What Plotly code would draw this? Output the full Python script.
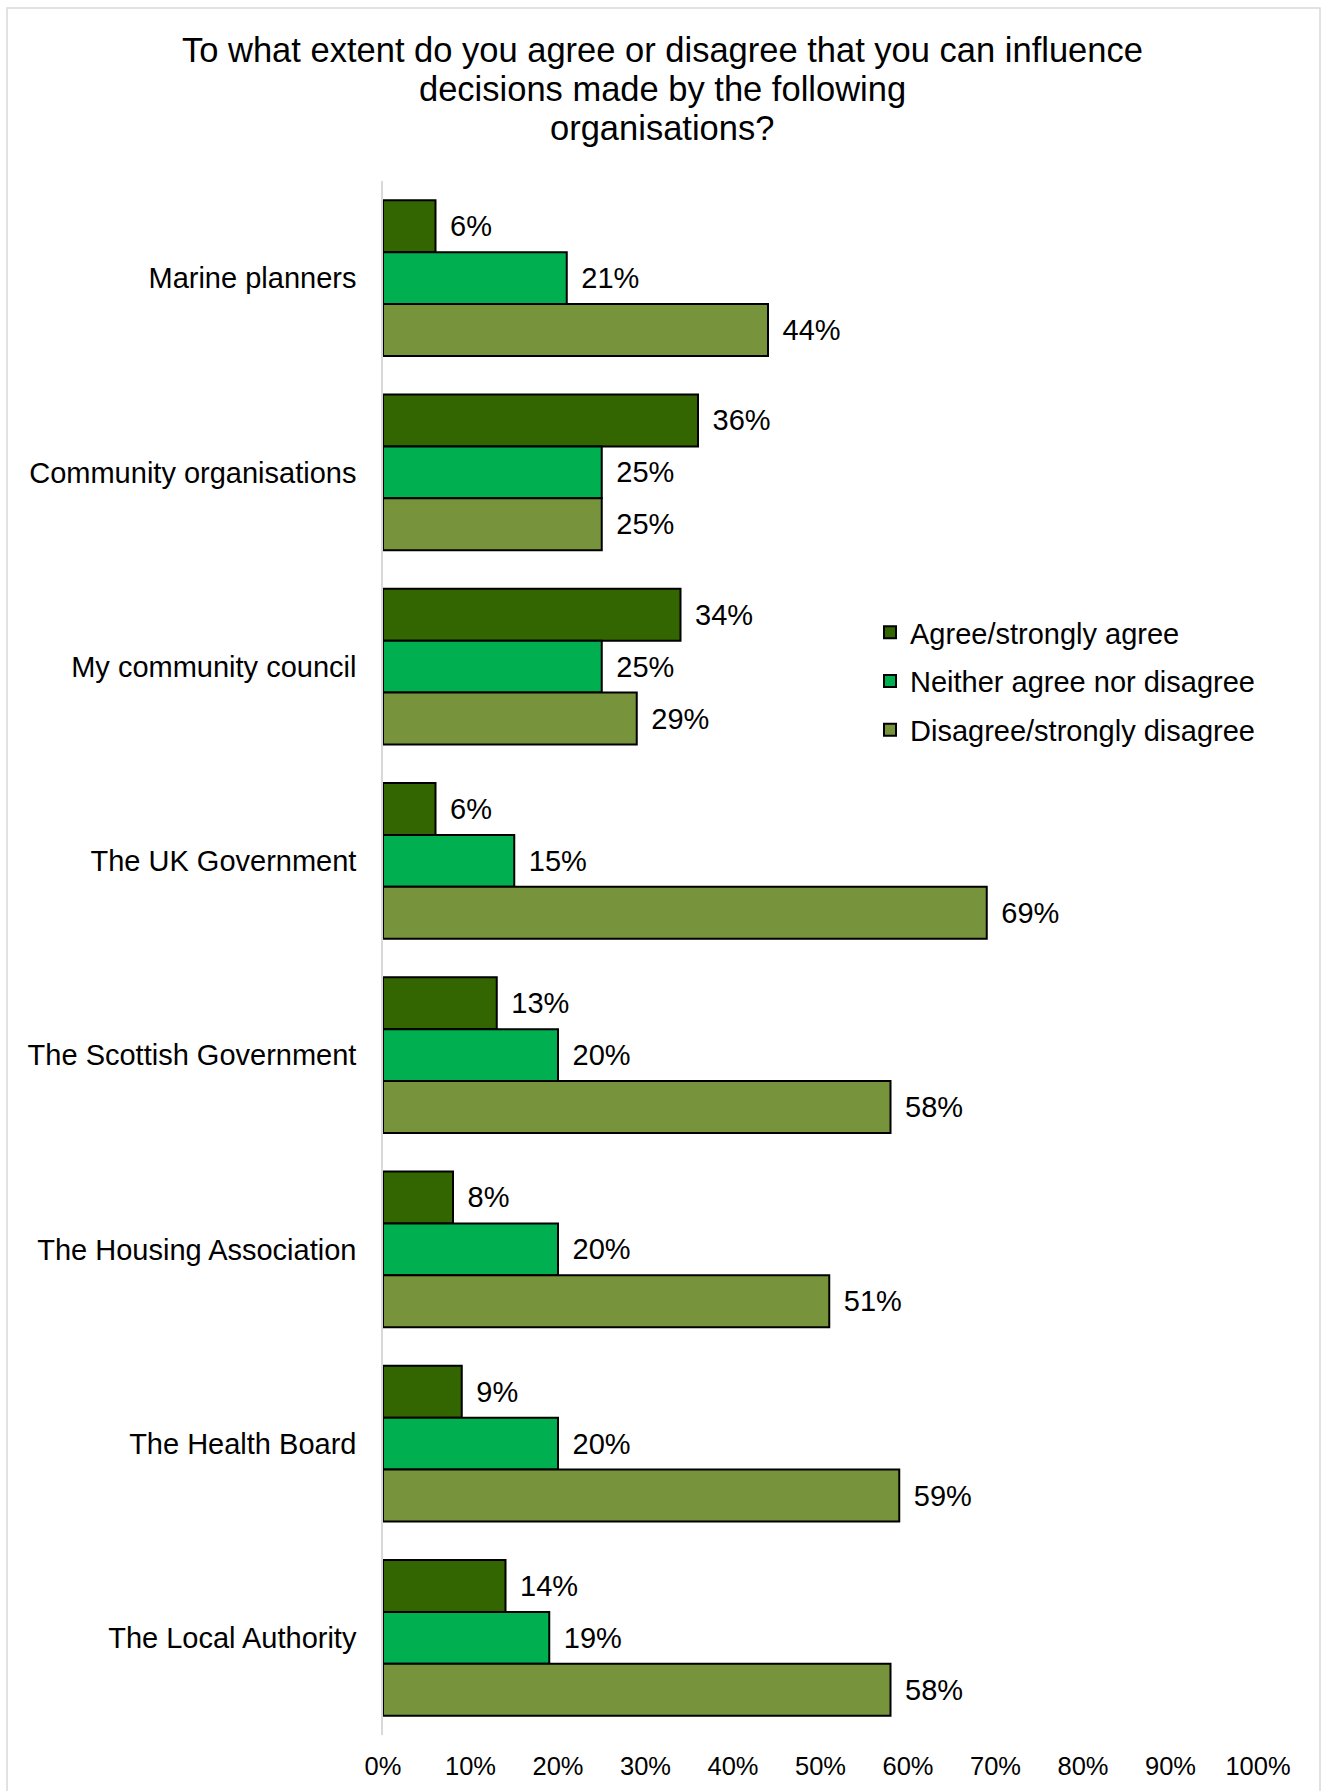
import plotly.graph_objects as go

# Survey results: share of respondents per answer, by organisation
organisations = [
    "Marine planners",
    "Community organisations",
    "My community council",
    "The UK Government",
    "The Scottish Government",
    "The Housing Association",
    "The Health Board",
    "The Local Authority",
]
agree = [6, 36, 34, 6, 13, 8, 9, 14]
neither = [21, 25, 25, 15, 20, 20, 20, 19]
disagree = [44, 25, 29, 69, 58, 51, 59, 58]

series_names = [
    "Agree/strongly agree",
    "Neither agree nor disagree",
    "Disagree/strongly disagree",
]
series_values = [agree, neither, disagree]
series_colors = ["#336600", "#00B050", "#77933C"]

tick_values = list(range(0, 101, 10))
tick_labels = [f"{v}%" for v in tick_values]

title_lines = [
    "To what extent do you agree or disagree that you can influence",
    "decisions made by the following",
    "organisations?",
]

FONT = "Liberation Sans, Arial, sans-serif"
W, H = 1324, 1791
ML, MR, MT, MB = 383, 66, 181, 56
plot_w = W - ML - MR
plot_h = H - MT - MB


def px_to_paper_x(px):
    return (px - ML) / plot_w


def px_to_paper_y(py):
    return (H - MB - py) / plot_h


fig = go.Figure()
for i, (name, vals, color) in enumerate(zip(series_names, series_values, series_colors)):
    fig.add_trace(
        go.Bar(
            name=name,
            y=organisations,
            x=vals,
            orientation="h",
            marker=dict(color=color, line=dict(color="#000000", width=2)),
            text=[f"\u2009\u2009{v}%" for v in vals],
            textposition="outside",
            textfont=dict(family=FONT, size=29, color="#000000"),
            constraintext="none",
            cliponaxis=False,
            legendgroup=f"g{i}",
            hoverinfo="skip",
        )
    )

# Title, one annotation per line so the line spacing stays tight
title_annotations = [
    dict(
        text=line,
        xref="paper",
        yref="paper",
        x=px_to_paper_x(W / 2),
        y=px_to_paper_y(50 + 39 * k),
        xanchor="center",
        yanchor="middle",
        showarrow=False,
        font=dict(family=FONT, size=34.5, color="#000000"),
    )
    for k, line in enumerate(title_lines)
]

fig.update_layout(
    width=W,
    height=H,
    margin=dict(l=ML, r=MR, t=MT, b=MB),
    paper_bgcolor="#FFFFFF",
    plot_bgcolor="#FFFFFF",
    barmode="group",
    bargap=0.197,
    bargroupgap=0,
    font=dict(family=FONT, color="#000000"),
    annotations=title_annotations,
    xaxis=dict(
        range=[0, 100],
        tickvals=tick_values,
        ticktext=tick_labels,
        showgrid=False,
        zeroline=False,
        showline=False,
        ticks="",
        ticklabelstandoff=13,
        tickfont=dict(family=FONT, size=25.5, color="#000000"),
        fixedrange=True,
    ),
    yaxis=dict(
        categoryorder="array",
        categoryarray=organisations,
        autorange="reversed",
        showgrid=False,
        zeroline=False,
        showline=True,
        linecolor="#D9D9D9",
        linewidth=1.5,
        ticks="",
        ticklabelstandoff=19,
        tickfont=dict(family=FONT, size=29, color="#000000"),
        fixedrange=True,
    ),
    legend=dict(
        x=px_to_paper_x(870),
        y=px_to_paper_y(607),
        xanchor="left",
        yanchor="top",
        font=dict(family=FONT, size=29, color="#000000"),
        itemwidth=30,
        tracegroupgap=8,
        bgcolor="rgba(0,0,0,0)",
        traceorder="grouped",
    ),
    showlegend=True,
    shapes=[
        dict(
            type="rect",
            xref="paper",
            yref="paper",
            x0=px_to_paper_x(7),
            x1=px_to_paper_x(1320),
            y0=px_to_paper_y(1800),
            y1=px_to_paper_y(8),
            line=dict(color="#D9D9D9", width=1.5),
            fillcolor="rgba(0,0,0,0)",
            layer="below",
        )
    ],
)

fig.write_html("out.html")
